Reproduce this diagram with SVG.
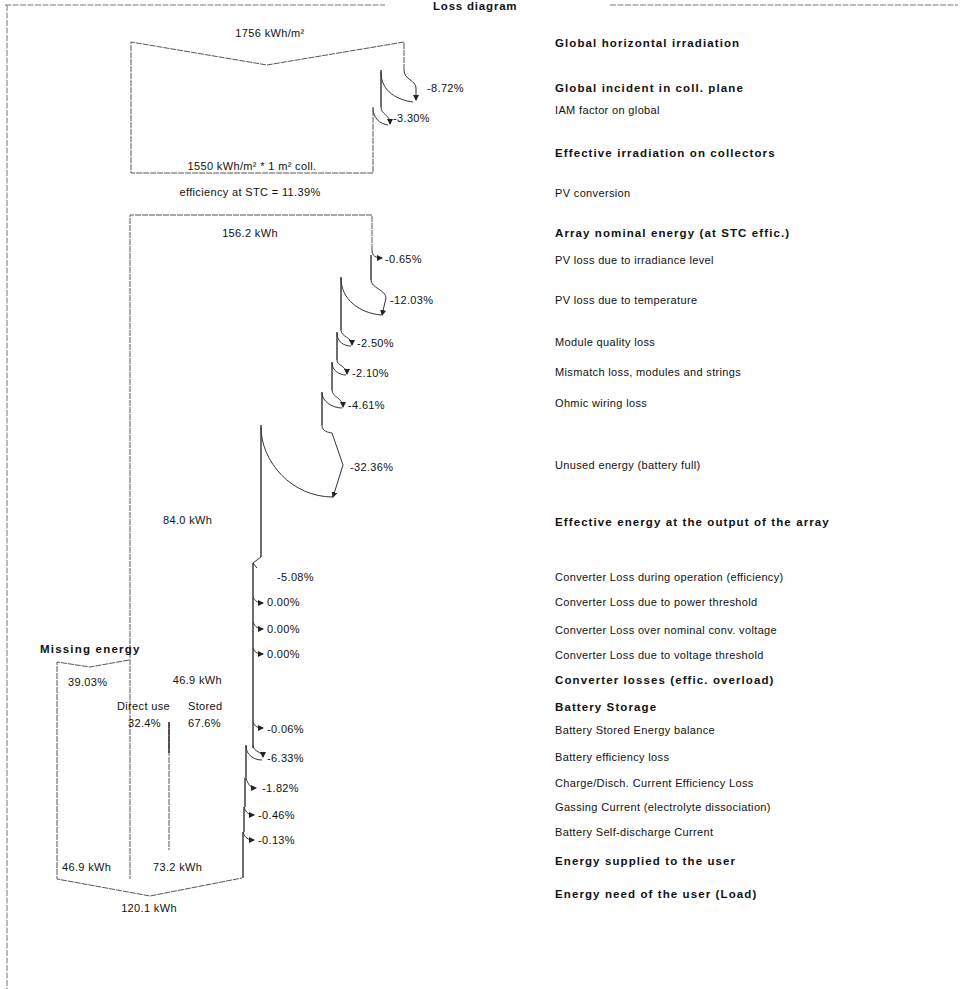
<svg xmlns="http://www.w3.org/2000/svg" width="963" height="989" viewBox="0 0 963 989">
<style>
text{font-family:"Liberation Sans",Arial,sans-serif;fill:#111;font-size:11px;letter-spacing:0.35px}
.b{font-weight:bold;font-size:11.5px;letter-spacing:1.1px}
.flow{fill:none;stroke:#555;stroke-width:1;stroke-dasharray:6 1}
.edge{fill:none;stroke:#222;stroke-width:1.3}
.loss{fill:none;stroke:#333;stroke-width:1}
.frame{fill:none;stroke:#777;stroke-width:1;stroke-dasharray:6 1.5}
</style>
<defs>
<marker id="ah" markerWidth="6" markerHeight="6" refX="5" refY="3" orient="auto" markerUnits="userSpaceOnUse">
<path d="M0,0 L6,3 L0,6 Z" fill="#222"/>
</marker>
</defs>
<rect width="963" height="989" fill="#fff"/>
<g id="frame">
<path class="frame" d="M5,5 H385 M610,5 H958 M7,5 V989"/>
<text x="433" y="10" class="b" style="letter-spacing:0.8px">Loss diagram</text>
</g>
<g id="labels">
<text x="555" y="47" class="b">Global horizontal irradiation</text>
<text x="555" y="92" class="b">Global incident in coll. plane</text>
<text x="555" y="114">IAM factor on global</text>
<text x="555" y="157" class="b">Effective irradiation on collectors</text>
<text x="555" y="197">PV conversion</text>
<text x="555" y="237" class="b">Array nominal energy (at STC effic.)</text>
<text x="555" y="264">PV loss due to irradiance level</text>
<text x="555" y="304">PV loss due to temperature</text>
<text x="555" y="346">Module quality loss</text>
<text x="555" y="376">Mismatch loss, modules and strings</text>
<text x="555" y="407">Ohmic wiring loss</text>
<text x="555" y="469">Unused energy (battery full)</text>
<text x="555" y="526" class="b">Effective energy at the output of the array</text>
<text x="555" y="581">Converter Loss during operation (efficiency)</text>
<text x="555" y="606">Converter Loss due to power threshold</text>
<text x="555" y="634">Converter Loss over nominal conv. voltage</text>
<text x="555" y="659">Converter Loss due to voltage threshold</text>
<text x="555" y="684" class="b">Converter losses (effic. overload)</text>
<text x="555" y="711" class="b">Battery Storage</text>
<text x="555" y="734">Battery Stored Energy balance</text>
<text x="555" y="761">Battery efficiency loss</text>
<text x="555" y="787">Charge/Disch. Current Efficiency Loss</text>
<text x="555" y="811">Gassing Current (electrolyte dissociation)</text>
<text x="555" y="836">Battery Self-discharge Current</text>
<text x="555" y="865" class="b">Energy supplied to the user</text>
<text x="555" y="898" class="b">Energy need of the user (Load)</text>
</g>
<g id="irradiation">
<path class="flow" d="M404,70 V42 L267,65 L131,42 V173 H373 V107"/>
<path class="edge" d="M381,70 V107"/>
<text x="270" y="37" text-anchor="middle">1756 kWh/m²</text>
<text x="252" y="170" text-anchor="middle">1550 kWh/m² * 1 m² coll.</text>
<text x="250" y="196" text-anchor="middle">efficiency at STC = 11.39%</text>
</g>
<g id="array">
<path class="flow" d="M372,250 V215 H130 V879"/>
<path class="edge" d="M371,255 V280 M341,277 V330 M337,332 V360 M332,362 V390 M322,392 V425 M261,425 V557 M253,563 V748 M246,745 V778 M245,778 V807 M244,807 V832 M243,832 V878"/>
<text x="250" y="237" text-anchor="middle">156.2 kWh</text>
<text x="163" y="524">84.0 kWh</text>
</g>
<g id="user">
<path class="flow" d="M129,660 L90,667 L57,662 V879 L150,896 L242,878"/>
<path class="flow" d="M169,722 V850"/>
<path class="edge" d="M169,722 V753"/>
<text x="40" y="653" class="b" style="letter-spacing:1.2px">Missing energy</text>
<text x="68" y="686">39.03%</text>
<text x="222" y="684" text-anchor="end">46.9 kWh</text>
<text x="117" y="710">Direct use</text>
<text x="188" y="710">Stored</text>
<text x="128" y="727">32.4%</text>
<text x="188" y="727">67.6%</text>
<text x="62" y="871">46.9 kWh</text>
<text x="153" y="871">73.2 kWh</text>
<text x="149" y="912" text-anchor="middle">120.1 kWh</text>
</g>
<g id="connectors">
<path class="loss" d="M404,70 C404,80 416,80 416,88 V100" marker-end="url(#ah)"/>
<path class="loss" d="M381,72 C381,92 398,100 413,102"/>
<path class="loss" d="M381,107 C381,115 390,114 390,124" marker-end="url(#ah)"/>
<path class="loss" d="M373,108 C373,118 380,124 388,125"/>
<path class="loss" d="M372,250 C372,256 376,258 382,258" marker-end="url(#ah)"/>
<path class="loss" d="M371,280 C371,288 386,290 386,298 L382,315" marker-end="url(#ah)"/>
<path class="loss" d="M341,278 C341,300 360,313 381,315"/>
<path class="loss" d="M341,330 C341,337 352,337 352,345" marker-end="url(#ah)"/>
<path class="loss" d="M337,333 C337,342 344,346 351,346"/>
<path class="loss" d="M337,360 C337,366 347,366 347,374" marker-end="url(#ah)"/>
<path class="loss" d="M332,363 C332,370 339,375 346,375"/>
<path class="loss" d="M332,390 C332,397 343,398 343,407" marker-end="url(#ah)"/>
<path class="loss" d="M322,393 C322,401 332,408 342,408"/>
<path class="loss" d="M322,425 C322,432 328,432 332,433 L343,465 L333,497" marker-end="url(#ah)"/>
<path class="loss" d="M261,427 C261,462 292,497 333,497"/>
<path class="loss" d="M261,557 L253,563 L257,568"/>
<path class="loss" d="M253,597 C255,601 258,603 263,603" marker-end="url(#ah)"/>
<path class="loss" d="M253,622 C255,627 258,629 263,629" marker-end="url(#ah)"/>
<path class="loss" d="M253,648 C255,653 258,654 263,654" marker-end="url(#ah)"/>
<path class="loss" d="M253,722 C255,727 258,728 263,728" marker-end="url(#ah)"/>
<path class="loss" d="M253,745 C253,752 263,752 263,757" marker-end="url(#ah)"/>
<path class="loss" d="M246,746 C246,755 254,760 262,760"/>
<path class="loss" d="M246,778 C248,785 251,788 256,788" marker-end="url(#ah)"/>
<path class="loss" d="M244,807 C246,813 249,815 254,815" marker-end="url(#ah)"/>
<path class="loss" d="M243,832 C245,838 248,840 254,840" marker-end="url(#ah)"/>
</g>
<g id="percents">
<text x="427" y="92">-8.72%</text>
<text x="393" y="122">-3.30%</text>
<text x="385" y="263">-0.65%</text>
<text x="390" y="304">-12.03%</text>
<text x="357" y="347">-2.50%</text>
<text x="352" y="377">-2.10%</text>
<text x="348" y="409">-4.61%</text>
<text x="350" y="471">-32.36%</text>
<text x="277" y="581">-5.08%</text>
<text x="267" y="606">0.00%</text>
<text x="267" y="633">0.00%</text>
<text x="267" y="658">0.00%</text>
<text x="267" y="733">-0.06%</text>
<text x="267" y="762">-6.33%</text>
<text x="262" y="792">-1.82%</text>
<text x="258" y="819">-0.46%</text>
<text x="258" y="844">-0.13%</text>
</g>
</svg>
